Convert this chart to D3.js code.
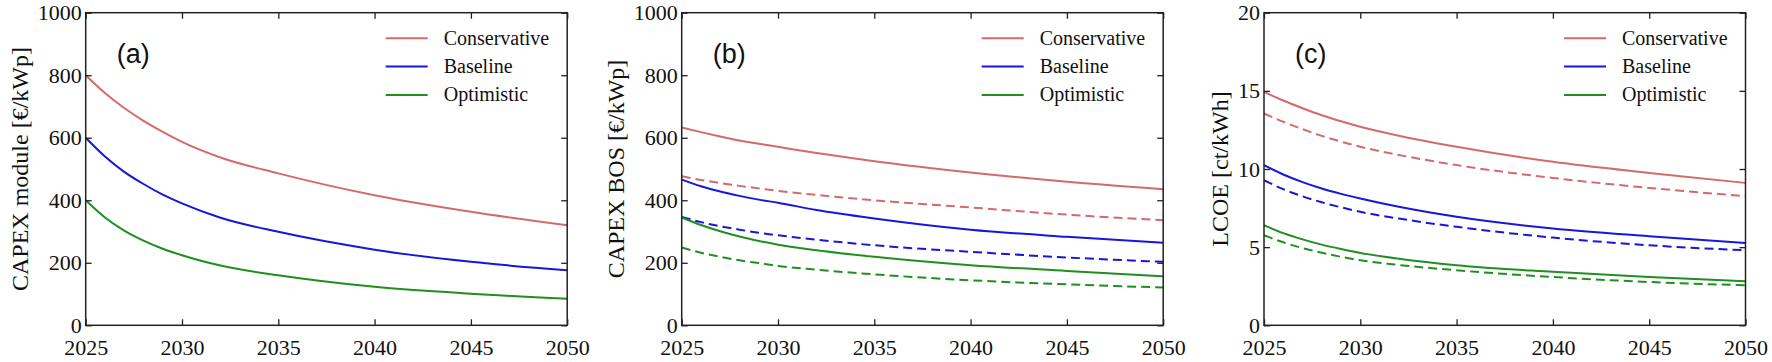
<!DOCTYPE html>
<html>
<head>
    <title>PV cost scenarios</title>
    <script src="https://d3js.org/d3.v7.min.js"></script>
    <style type="text/css">
        body{ margin:0; background:#fff; }
        .axis path{ display:none; }
        .axis line{ stroke:#222; stroke-width:1.3; }
    </style>
</head>
<body>
<script>
    var w = 1772;
    var h = 362;

    // x values
    var years = [2025, 2026, 2027, 2028, 2029, 2030, 2032, 2035, 2040, 2045, 2050];
    var xTicks = [2025, 2030, 2035, 2040, 2045, 2050];
    var scenarios = ["Conservative", "Baseline", "Optimistic"];
    var colors = ["#d46a6a", "#1717dc", "#1f8f1f"];

    // (a) CAPEX module [€/kWp]
    var moduleCons = [800, 743, 695, 654, 619, 587, 537, 486, 416, 363, 320];
    var moduleBase = [600, 540, 491, 452, 418, 390, 344, 299, 242, 203, 176];
    var moduleOpt  = [400, 345, 303, 271, 245, 224, 191, 160, 123, 101, 85];

    // (b) CAPEX BOS [€/kWp], solid and dashed
    var bosCons      = [633, 618, 604, 591, 581, 571, 551, 525, 489, 459, 435];
    var bosConsDash  = [477, 465, 455, 446, 438, 430, 417, 400, 377, 354, 336];
    var bosBase      = [466, 445, 428, 414, 402, 392, 369, 342, 306, 283, 264];
    var bosBaseDash  = [347, 330, 317, 306, 296, 288, 274, 256, 235, 217, 203];
    var bosOpt       = [345, 321, 301, 284, 270, 258, 240, 219, 192, 174, 157];
    var bosOptDash   = [249, 232, 219, 208, 199, 190, 178, 163, 144, 131, 121];

    // (c) LCOE [ct/kWh], solid and dashed
    var lcoeCons     = [14.94, 14.38, 13.89, 13.44, 13.05, 12.70, 12.13, 11.42, 10.46, 9.75, 9.11];
    var lcoeConsDash = [13.55, 13.02, 12.55, 12.12, 11.75, 11.42, 10.90, 10.25, 9.43, 8.79, 8.26];
    var lcoeBase     = [10.25, 9.65, 9.16, 8.75, 8.41, 8.11, 7.58, 6.94, 6.19, 5.70, 5.27];
    var lcoeBaseDash = [9.28, 8.71, 8.25, 7.87, 7.55, 7.26, 6.83, 6.30, 5.61, 5.12, 4.80];
    var lcoeOpt      = [6.40, 5.90, 5.50, 5.16, 4.88, 4.63, 4.26, 3.84, 3.42, 3.09, 2.82];
    var lcoeOptDash  = [5.76, 5.31, 4.94, 4.64, 4.38, 4.16, 3.86, 3.52, 3.09, 2.77, 2.56];

    var yTicksCapex = [0, 200, 400, 600, 800, 1000];
    var yTicksLcoe = [0, 5, 10, 15, 20];

    var panels = [
        {left:85.7, letter:"(a)", label:"CAPEX module [\u20ac/kWp]", yMax:1000, ticks:yTicksCapex,
         lines:[[moduleCons,0,false],[moduleBase,1,false],[moduleOpt,2,false]]},
        {left:681.7, letter:"(b)", label:"CAPEX BOS [\u20ac/kWp]", yMax:1000, ticks:yTicksCapex,
         lines:[[bosCons,0,false],[bosConsDash,0,true],[bosBase,1,false],[bosBaseDash,1,true],
                [bosOpt,2,false],[bosOptDash,2,true]]},
        {left:1264, letter:"(c)", label:"LCOE [ct/kWh]", yMax:20, ticks:yTicksLcoe,
         lines:[[lcoeCons,0,false],[lcoeConsDash,0,true],[lcoeBase,1,false],[lcoeBaseDash,1,true],
                [lcoeOpt,2,false],[lcoeOptDash,2,true]]}
    ];
    var pw = 481.5, plotTop = 12.7, ph = 312.6;
    var serif = "Liberation Serif, Times New Roman, serif";

    var svg = d3.select("body").append("svg")
                .attr("width", w).attr("height", h);

    function styleTicks(sel){
        sel.selectAll("text")
           .attr("font-family", serif)
           .attr("font-size", "22px")
           .attr("fill", "#111");
    }

    panels.forEach(function(p){
        var g = svg.append("g").attr("transform", "translate(" + p.left + "," + plotTop + ")");
        var xScale = d3.scaleLinear().domain([2025, 2050]).range([0, pw]);
        var yScale = d3.scaleLinear().domain([0, p.yMax]).range([ph, 0]);

        // lines
        var line = d3.line()
                     .x(function(d, i){ return xScale(years[i]); })
                     .y(function(d){ return yScale(d); })
                     .curve(d3.curveMonotoneX);
        p.lines.forEach(function(l){
            g.append("path")
             .attr("d", line(l[0]))
             .attr("fill", "none")
             .attr("stroke", colors[l[1]])
             .attr("stroke-width", 2)
             .attr("stroke-dasharray", l[2] ? "9,5" : null);
        });

        // axes, ticks pointing inward on all sides
        g.append("g").attr("class", "axis")
         .attr("transform", "translate(0," + ph + ")")
         .call(d3.axisBottom(xScale).tickValues(xTicks).tickFormat(d3.format("d"))
                 .tickSizeInner(-6).tickSizeOuter(0).tickPadding(14))
         .call(styleTicks);
        g.append("g").attr("class", "axis")
         .call(d3.axisTop(xScale).tickValues(xTicks).tickFormat("")
                 .tickSizeInner(-6).tickSizeOuter(0));
        var yAx = g.append("g").attr("class", "axis")
         .call(d3.axisLeft(yScale).tickValues(p.ticks).tickFormat(d3.format("d"))
                 .tickSizeInner(-6).tickSizeOuter(0).tickPadding(4))
         .call(styleTicks);
        g.append("g").attr("class", "axis")
         .attr("transform", "translate(" + pw + ",0)")
         .call(d3.axisRight(yScale).tickValues(p.ticks).tickFormat("")
                 .tickSizeInner(-6).tickSizeOuter(0));
        g.append("rect")
         .attr("width", pw).attr("height", ph)
         .attr("fill", "none").attr("stroke", "#222").attr("stroke-width", 1.5);

        // y label next to tick labels
        var maxW = 0;
        yAx.selectAll("text").each(function(){ maxW = Math.max(maxW, this.getBBox().width); });
        g.append("text")
         .attr("transform", "translate(" + (-4 - maxW - 10) + "," + (ph / 2) + ") rotate(-90)")
         .attr("text-anchor", "middle")
         .attr("font-family", serif)
         .attr("font-size", "24px")
         .attr("fill", "#111")
         .text(p.label);

        // panel letter
        g.append("text")
         .attr("x", 31).attr("y", 50)
         .attr("font-family", "Liberation Sans, Arial, sans-serif")
         .attr("font-size", "27px")
         .attr("fill", "#111")
         .text(p.letter);

        // legend
        var lg = g.selectAll(".leg").data(scenarios).enter().append("g")
                  .attr("transform", function(d, i){ return "translate(0," + (25.6 + i * 28.3) + ")"; });
        lg.append("line")
          .attr("x1", 300).attr("x2", 342)
          .attr("stroke", function(d, i){ return colors[i]; })
          .attr("stroke-width", 2);
        lg.append("text")
          .attr("x", 358).attr("y", 6.5)
          .attr("font-family", serif)
          .attr("font-size", "20px")
          .attr("fill", "#111")
          .text(function(d){ return d; });
    });
</script>
</body>
</html>
